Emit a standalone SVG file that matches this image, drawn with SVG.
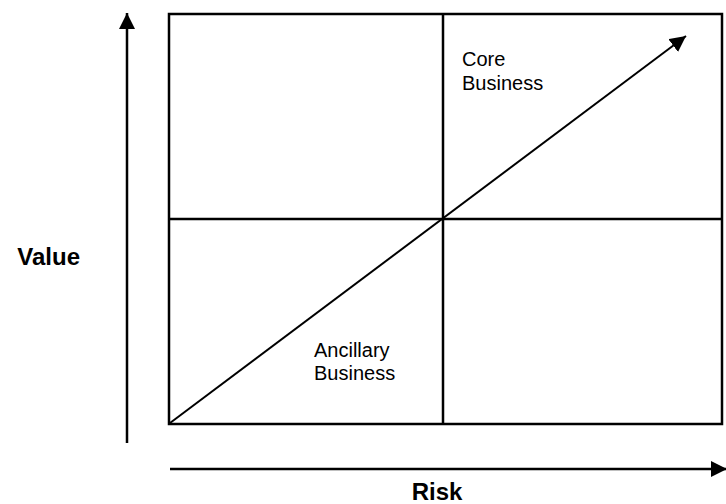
<svg xmlns="http://www.w3.org/2000/svg" width="726" height="504" viewBox="0 0 726 504">
  <style>
    .ln { stroke: #000; stroke-width: 2.5; fill: none; }
    .thin { stroke: #000; stroke-width: 2; fill: none; }
    .lbl { font-family: "Liberation Sans", Arial, sans-serif; font-size: 20px; fill: #000; }
    .ax { font-family: "Liberation Sans", Arial, sans-serif; font-size: 24px; font-weight: bold; fill: #000; }
  </style>
  <defs>
    <marker id="headL" viewBox="0 0 10 10" refX="10" refY="5" markerWidth="16" markerHeight="16" markerUnits="userSpaceOnUse" orient="auto">
      <path d="M0,0 L10,5 L0,10 Z" fill="#000"/>
    </marker>
  </defs>

  <!-- quadrant grid -->
  <g id="grid">
    <rect class="ln" x="169" y="14" width="553" height="410"/>
    <line class="ln" x1="443" y1="14" x2="443" y2="424"/>
    <line class="ln" x1="169" y1="219" x2="722" y2="219"/>
  </g>

  <g id="connectors">
    <!-- value axis -->
    <line class="ln" x1="127" y1="443" x2="127" y2="13" marker-end="url(#headL)"/>
    <!-- risk axis -->
    <line class="ln" x1="170" y1="469" x2="727" y2="469" marker-end="url(#headL)"/>
    <!-- diagonal trend -->
    <line class="thin" x1="170" y1="423" x2="686" y2="36" marker-end="url(#headL)"/>
  </g>

  <g id="core">
    <text class="lbl" x="462" y="66">Core</text>
    <text class="lbl" x="462" y="90">Business</text>
  </g>
  <g id="ancillary">
    <text class="lbl" x="314" y="357">Ancillary</text>
    <text class="lbl" x="314" y="380">Business</text>
  </g>
  <g id="value">
    <text class="ax" x="80" y="265" text-anchor="end">Value</text>
  </g>
  <g id="risk">
    <text class="ax" x="437" y="500" text-anchor="middle">Risk</text>
  </g>
</svg>
